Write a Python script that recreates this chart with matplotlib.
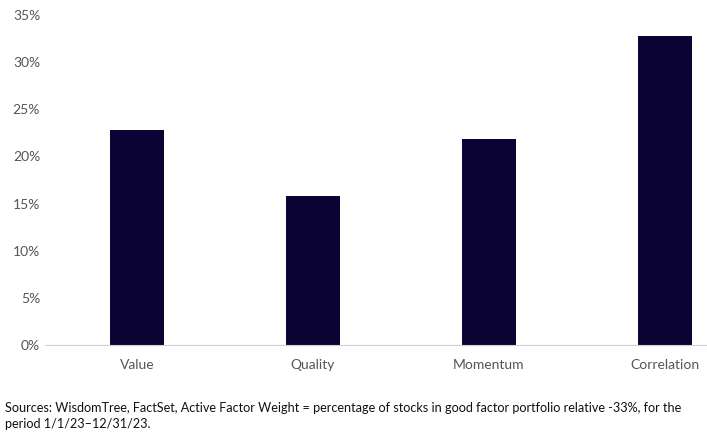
import matplotlib
matplotlib.use("Agg")
import matplotlib.pyplot as plt
from matplotlib.ticker import FuncFormatter

categories = ["Value", "Quality", "Momentum", "Correlation"]
values = [22.8, 15.8, 21.8, 32.8]

plt.rcParams['font.family'] = ['Lato', 'DejaVu Sans']
fig = plt.figure(figsize=(7.07, 4.42), dpi=100)
ax = fig.add_axes([45/707, 97/442, 662/707, 330/442])
x = range(len(categories))
ax.bar(x, values, width=0.31, color="#0a0333")
ax.set_xlim(-0.523, 3.239)
ax.set_ylim(0, 35)
ax.set_yticks(range(0, 36, 5))
ax.yaxis.set_major_formatter(FuncFormatter(lambda v, p: f"{int(v)}%"))
ax.set_xticks(list(x))
ax.set_xticklabels(categories)
for s in ["top", "right", "left"]:
    ax.spines[s].set_visible(False)
ax.spines["bottom"].set_color("#d0d0d0")
ax.tick_params(axis="both", length=0, colors="#555555", labelsize=10)
ax.tick_params(axis="x", pad=10)
fig.text(5/707, 1 - 416/442, "Sources: WisdomTree, FactSet, Active Factor Weight = percentage of stocks in good factor portfolio relative -33%, for the\nperiod 1/1/23\u201312/31/23.",
         fontsize=9.1, color="#111111", va="center", linespacing=1.3)
fig.savefig("out.png", dpi=100)
